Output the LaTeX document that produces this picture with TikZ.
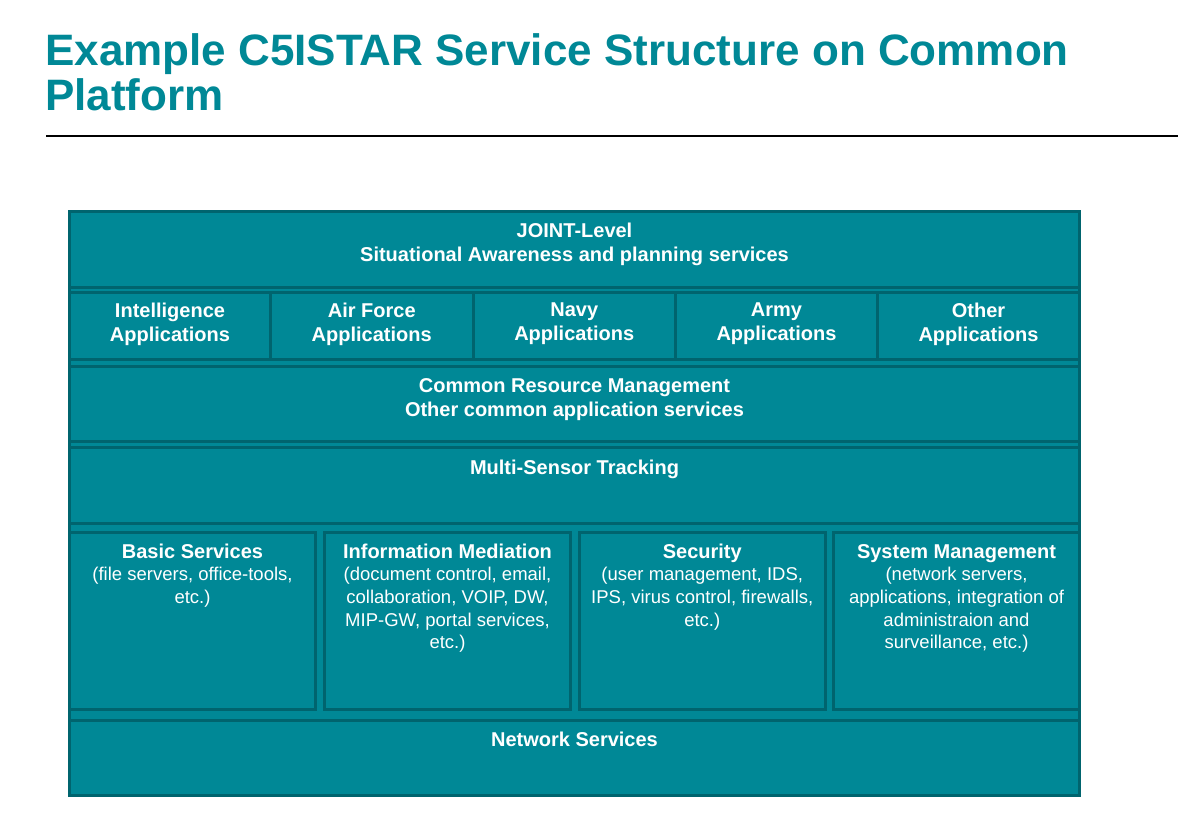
\documentclass[tikz,border=0pt]{standalone}
\usepackage{fontspec}
\setmainfont{Liberation Sans}
\definecolor{tealfill}{RGB}{0,136,150}
\definecolor{tealline}{RGB}{0,100,110}
\begin{document}
\begin{tikzpicture}[x=1pt,y=-1pt,
  box/.style={draw=tealline, fill=tealfill, line width=3pt, inner sep=0pt, outer sep=0pt, anchor=north west},
  hd/.style={text=white, font=\bfseries\fontsize{20}{24}\selectfont, align=center, anchor=north, inner sep=0pt},
  bd/.style={text=white, font=\fontsize{18.5}{22.7}\selectfont, align=center, anchor=north, inner sep=0pt},
  ttl/.style={text=tealfill, font=\bfseries\fontsize{44}{45}\selectfont, anchor=base west, inner sep=0pt}]
\useasboundingbox (0,0) rectangle (1178,820);
\newcommand\bx[5]{\node[box, minimum width={(#4-#2)*1pt}, minimum height={(#5-#3)*1pt}] (#1) at (#2,#3) {};}
% title
\node[ttl] (t1) at (45,65) {Example C5ISTAR Service Structure on Common};
\node[ttl] (t2) at (45,110) {Platform};
\coordinate (r1) at (46,136);
\coordinate (r2) at (1178,136);
\draw[line width=2pt] (r1) -- (r2);
% outer
\bx{outer}{69.5}{211.5}{1079.5}{795.5}
% rows
\bx{joint}{69.5}{211.5}{1079.5}{287}
\bx{a1}{69.5}{292}{270.5}{359}
\bx{a2}{270.5}{292}{473}{359}
\bx{a3}{473}{292}{675.5}{359}
\bx{a4}{675.5}{292}{877.5}{359}
\bx{a5}{877.5}{292}{1079.5}{359}
\bx{crm}{69.5}{366}{1079.5}{441.5}
\bx{mst}{69.5}{447.5}{1079.5}{523.3}
\bx{b1}{69.5}{532.7}{315.5}{709.3}
\bx{b2}{324.5}{532.7}{570.5}{709.3}
\bx{b3}{579}{532.7}{825.5}{709.3}
\bx{b4}{833.5}{532.7}{1079.5}{709.3}
\bx{net}{69.5}{720.7}{1079.5}{795.5}
% texts
\node[hd] (tj) at ([yshift=-11.5pt]joint.north) {JOINT-Level\\Situational Awareness and planning services};
\node[hd] (ta1) at ([yshift=-11pt]a1.north) {Intelligence\\Applications};
\node[hd] (ta2) at ([yshift=-11pt]a2.north) {Air Force\\Applications};
\node[hd] (ta3) at ([yshift=-11pt]a3.north) {Navy\\Applications};
\node[hd] (ta4) at ([yshift=-11pt]a4.north) {Army\\Applications};
\node[hd] (ta5) at ([yshift=-11pt]a5.north) {Other\\Applications};
\node[hd] (tc) at ([yshift=-12pt]crm.north) {Common Resource Management\\Other common application services};
\node[hd] (tm) at ([yshift=-12pt]mst.north) {Multi-Sensor Tracking};
\node[hd] (tb1) at ([yshift=-11.5pt]b1.north) {Basic Services};
\node[hd] (tb2) at ([yshift=-11.5pt]b2.north) {Information Mediation};
\node[hd] (tb3) at ([yshift=-11.5pt]b3.north) {Security};
\node[hd] (tb4) at ([yshift=-11.5pt]b4.north) {System Management};
\node[bd] (db1) at ([yshift=-34.5pt]b1.north) {(file servers, office-tools,\\etc.)};
\node[bd] (db2) at ([yshift=-34.5pt]b2.north) {(document control, email,\\collaboration, VOIP, DW,\\MIP-GW, portal services,\\etc.)};
\node[bd] (db3) at ([yshift=-34.5pt]b3.north) {(user management, IDS,\\IPS, virus control, firewalls,\\etc.)};
\node[bd] (db4) at ([yshift=-34.5pt]b4.north) {(network servers,\\applications, integration of\\administraion and\\surveillance, etc.)};
\node[hd] (tn) at ([yshift=-11.5pt]net.north) {Network Services};
\end{tikzpicture}
\end{document}
